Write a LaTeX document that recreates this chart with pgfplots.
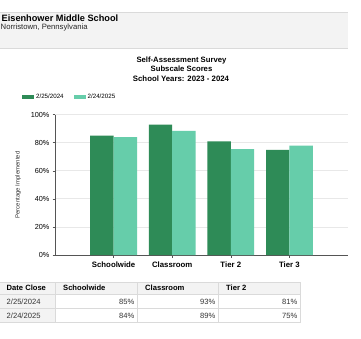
\documentclass[border=0pt]{standalone}
\usepackage{pgfplots}
\pgfplotsset{compat=1.18}
\usepackage{fontspec}
\setmainfont{Liberation Sans}
\definecolor{darkg}{HTML}{2E8B57}
\definecolor{lightg}{HTML}{66CDAA}
\definecolor{hdrgrey}{HTML}{F3F3F3}
\definecolor{gridc}{HTML}{E8E8E8}
\definecolor{axc}{HTML}{555555}
\definecolor{cellline}{HTML}{DADADA}
\begin{document}
\begin{tikzpicture}[x=1pt,y=1pt]
\path[use as bounding box, fill=white] (0,0) rectangle (361,338);
% header
\fill[hdrgrey] (0,290) rectangle (348,326);
\draw[cellline, line width=0.6pt] (0,326) -- (348,326);
\draw[cellline, line width=0.6pt] (0,290) -- (348,290);
\node[anchor=base west, inner sep=0pt, font=\fontsize{9.2}{10}\selectfont\bfseries] at (1.5,316.7) {Eisenhower Middle School};
\node[anchor=base west, inner sep=0pt, font=\fontsize{7.7}{8}\selectfont, text=black!85] at (0.5,308.7) {Norristown, Pennsylvania};
% title
\node[anchor=base, inner sep=0pt, font=\fontsize{7.7}{9}\selectfont\bfseries] at (181.5,275) {Self-Assessment Survey};
\node[anchor=base, inner sep=0pt, font=\fontsize{7.7}{9}\selectfont\bfseries] at (181.5,266) {Subscale Scores};
\node[anchor=base, inner sep=0pt, font=\fontsize{7.8}{9}\selectfont\bfseries] at (181,256.5) {School Years: 2023 - 2024};
% y label
\node[rotate=90, inner sep=0pt, font=\fontsize{6.0}{7}\selectfont, text=black!80] at (18,153) {Percentage Implemented};
\begin{axis}[
  at={(55pt,83pt)}, anchor=south west,
  scale only axis, width=293pt, height=140.3pt,
  xmin=0, xmax=5, ymin=0, ymax=100,
  ybar=0pt, bar width=23.4pt,
  xtick={1,2,3,4},
  xticklabels={Schoolwide,Classroom,Tier 2,Tier 3},
  ytick={0,20,40,60,80,100},
  yticklabel={\pgfmathprintnumber{\tick}\%},
  /pgf/number format/assume math mode=true,
  axis lines*=left,
  axis line style={axc, line width=0.8pt},
  tick style={axc, line width=0.6pt},
  tick align=outside, major tick length=2.5pt,
  ymajorgrids, grid style={gridc, line width=0.8pt},
  xticklabel style={font=\fontsize{7.8}{9}\selectfont\bfseries, yshift=-0.5pt},
  yticklabel style={font=\fontsize{7.3}{8}\selectfont, xshift=0.5pt},
  legend columns=2,
  legend style={at={(-0.113,1.126)}, anchor=west, draw=none, fill=none,
    font=\fontsize{6.2}{7}\selectfont, inner sep=0pt,
    /tikz/every even column/.append style={column sep=8pt}},
  legend image code/.code={\fill[#1] (0pt,-2.3pt) rectangle (12pt,2.3pt);},
  legend cell align=left,
]
\addplot[fill=darkg, draw=none] coordinates {(1,85) (2,93) (3,81) (4,75)};
\addplot[fill=lightg, draw=none] coordinates {(1,84) (2,88.5) (3,75.5) (4,78)};
\legend{2/25/2024, 2/24/2025}
\end{axis}
% table
\fill[hdrgrey] (0,44) rectangle (300,56);
\fill[hdrgrey] (0,15.5) rectangle (55,44);
\foreach \y in {56,44,30,15.5} \draw[cellline, line width=0.7pt] (0,\y) -- (300,\y);
\foreach \x in {55,137,218,300} \draw[cellline, line width=0.7pt] (\x,15.5) -- (\x,56);
\begin{scope}[every node/.style={inner sep=0pt, font=\fontsize{7.6}{9}\selectfont}]
\node[anchor=base west, font=\fontsize{7.6}{9}\selectfont\bfseries] at (6.5,47.3) {Date Close};
\node[anchor=base west, font=\fontsize{7.6}{9}\selectfont\bfseries] at (63,47.3) {Schoolwide};
\node[anchor=base west, font=\fontsize{7.6}{9}\selectfont\bfseries] at (145,47.3) {Classroom};
\node[anchor=base west, font=\fontsize{7.6}{9}\selectfont\bfseries] at (226,47.3) {Tier 2};
\node[anchor=base west, text=black!80] at (6.5,34) {2/25/2024};
\node[anchor=base west, text=black!80] at (6.5,20) {2/24/2025};
\node[anchor=base east, text=black!80] at (134.5,34) {85\%};
\node[anchor=base east, text=black!80] at (215.5,34) {93\%};
\node[anchor=base east, text=black!80] at (297.5,34) {81\%};
\node[anchor=base east, text=black!80] at (134.5,20) {84\%};
\node[anchor=base east, text=black!80] at (215.5,20) {89\%};
\node[anchor=base east, text=black!80] at (297.5,20) {75\%};
\end{scope}
\end{tikzpicture}
\end{document}
